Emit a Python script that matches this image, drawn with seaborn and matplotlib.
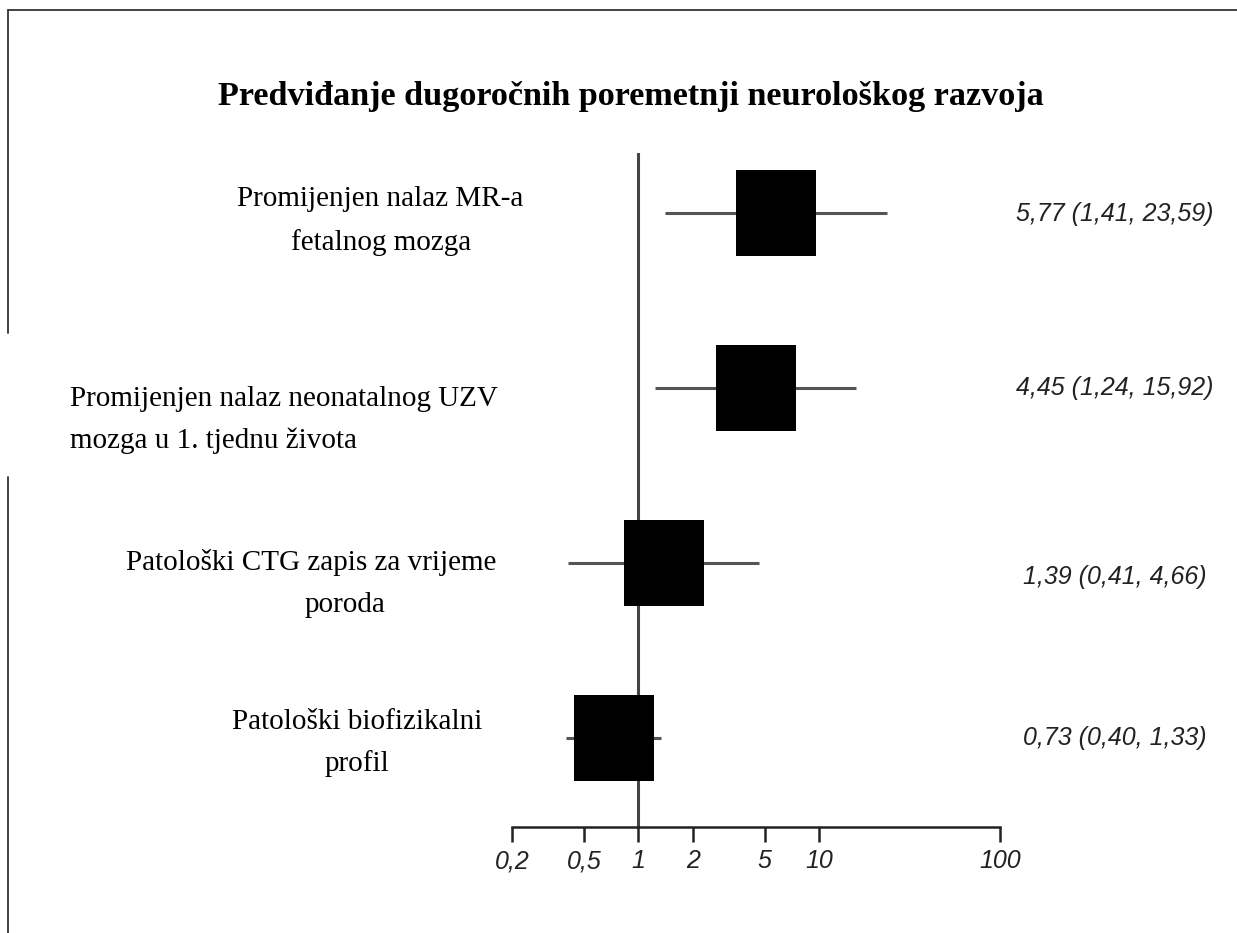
import numpy as np
import pandas as pd
import matplotlib
matplotlib.use('Agg')
import matplotlib.pyplot as plt
from matplotlib.path import Path
from matplotlib.ticker import NullLocator
from matplotlib.lines import Line2D
import seaborn as sns

# --- data ---
title = "Predviđanje dugoročnih poremetnji neurološkog razvoja"
row_labels = [
    ["Promijenjen nalaz MR-a", "fetalnog mozga"],
    ["Promijenjen nalaz neonatalnog UZV", "mozga u 1. tjednu života"],
    ["Patološki CTG zapis za vrijeme", "poroda"],
    ["Patološki biofizikalni", "profil"],
]
odds = [5.77, 4.45, 1.39, 0.73]
ci_low = [1.41, 1.24, 0.41, 0.40]
ci_high = [23.59, 15.92, 4.66, 1.33]
x_ticks = [0.2, 0.5, 1, 2, 5, 10, 100]
x_ticklabels = ["0,2", "0,5", "1", "2", "5", "10", "100"]


def fmt(v):
    return f"{v:.2f}".replace('.', ',')


df = pd.DataFrame({'row': np.arange(len(odds)), 'odds': odds,
                   'low': ci_low, 'high': ci_high})

sns.set_theme(style='white')
plt.rcParams['font.family'] = ['Liberation Serif', 'DejaVu Serif']
plt.rcParams['text.color'] = 'black'

W, H = 1237, 933
fig = plt.figure(figsize=(W / 100, H / 100), dpi=100)

# axes placed so that 0.2..100 spans the drawn axis line
ax = fig.add_axes([512 / W, 1 - 827 / H, 488 / W, (827 - 153) / H])
ax.set_xscale('log')
ax.set_xlim(0.2, 100)
ax.set_ylim(3.51, -0.343)

# reference line at 1
ax.axvline(1, color='#444444', lw=2.2, zorder=1)

# confidence intervals
ax.hlines(df['row'], df['low'], df['high'], color='#555555', lw=2.2, zorder=2)

# boxes (slightly taller than wide, as in the original)
box = Path([(-0.465, -0.5), (0.465, -0.5), (0.465, 0.5), (-0.465, 0.5), (-0.465, -0.5)],
           [Path.MOVETO, Path.LINETO, Path.LINETO, Path.LINETO, Path.CLOSEPOLY])
sns.scatterplot(data=df, x='odds', y='row', marker=box, s=62 ** 2,
                color='black', linewidth=0, ax=ax, zorder=3, legend=False)

for side in ['top', 'right', 'left']:
    ax.spines[side].set_visible(False)
ax.spines['bottom'].set_color('#222222')
ax.spines['bottom'].set_linewidth(1.8)
ax.set_xticks(x_ticks)
ax.set_xticklabels(x_ticklabels, family=['Liberation Sans'], style='italic',
                   fontsize=18, color='#222222')
ax.xaxis.set_minor_locator(NullLocator())
ax.tick_params(axis='x', which='major', bottom=True, direction='out', length=11,
               width=1.8, color='#222222', pad=5)
ax.set_yticks([])
ax.set_xlabel('')
ax.set_ylabel('')
ax.grid(False)

# title
fig.text(631 / W, 1 - 97 / H, title, ha='center', va='center',
         fontsize=24.6, fontweight='bold', color='black')

# row labels (pixel layout of each line: x, y, ha)
label_layout = [
    [(380, 199, 'center'), (381, 243, 'center')],
    [(70, 399, 'left'), (70, 441, 'left')],
    [(311, 563, 'center'), (305, 605, 'left')],
    [(357, 722, 'center'), (357, 764, 'center')],
]
for lines, lay in zip(row_labels, label_layout):
    for txt, (px, py, ha) in zip(lines, lay):
        fig.text(px / W, 1 - py / H, txt, ha=ha, va='center', fontsize=21,
                 color='black')

# estimate annotations on the right
ann_y = [214, 388, 577, 738]
for o, lo, hi, py in zip(odds, ci_low, ci_high, ann_y):
    fig.text(1115 / W, 1 - py / H, f"{fmt(o)} ({fmt(lo)}, {fmt(hi)})",
             ha='center', va='center', fontsize=18, style='italic',
             family=['Liberation Sans'], color='#222222')

# frame fragments around the figure
frame_kw = dict(color='#333333', lw=1.3, transform=fig.transFigure)
fig.add_artist(Line2D([8 / W, 1], [1 - 10 / H, 1 - 10 / H], **frame_kw))
fig.add_artist(Line2D([8 / W, 8 / W], [1 - 10 / H, 1 - 333 / H], **frame_kw))
fig.add_artist(Line2D([8 / W, 8 / W], [1 - 477 / H, 0], **frame_kw))

fig.savefig('out.png', dpi=100)
